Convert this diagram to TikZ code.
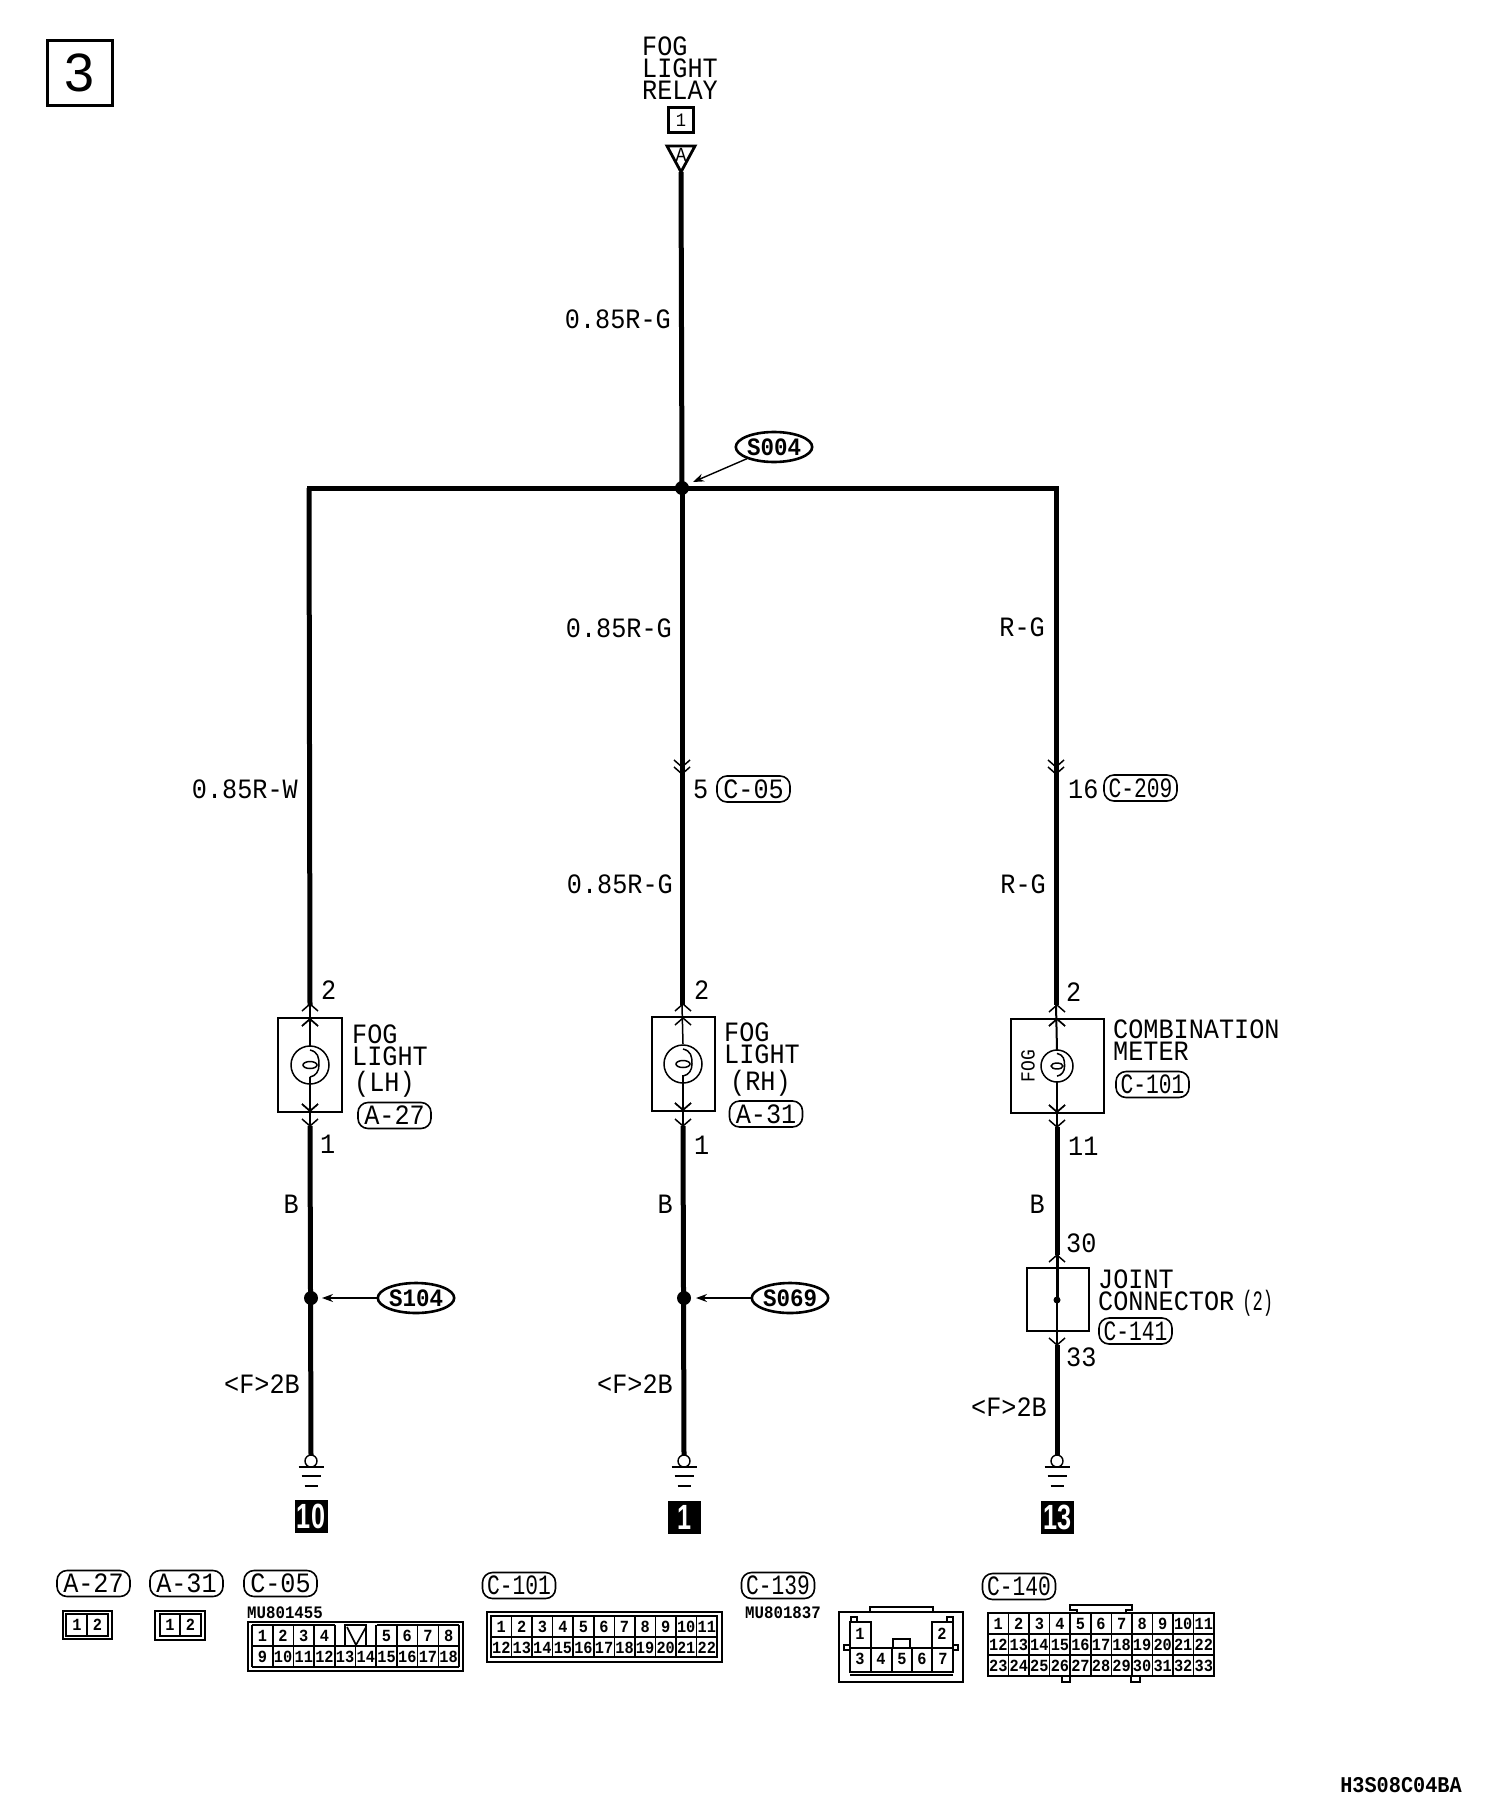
\documentclass[tikz,border=0pt]{standalone}
\usepackage{fontspec}
\usepackage{graphicx}
\setmainfont[FakeStretch=0.9]{Liberation Mono}
\newfontfamily\sansf{Liberation Sans}
\newfontfamily\tagnarrow[FakeStretch=0.76]{Liberation Mono}
\usetikzlibrary{shapes.geometric,arrows.meta}
\tikzset{
  wire/.style={line width=5pt},
  thinw/.style={line width=1.5pt},
  boxl/.style={draw,line width=1.9pt},
  lbl/.style={inner sep=0pt,font=\fontsize{28}{21.8}\selectfont,align=left},
  pinno/.style={inner sep=0pt,font=\fontsize{17}{17}\selectfont\bfseries},
  tag/.style={draw,line width=1.6pt,rounded corners=10pt,minimum width=73pt,minimum height=26pt,inner sep=0pt,font=\fontsize{28}{26}\selectfont},
  tagw/.style={tag,font=\fontsize{28}{26}\tagnarrow},
  splice/.style={draw,ellipse,line width=2.6pt,minimum width=76pt,minimum height=30pt,inner sep=0pt,font=\fontsize{25}{22}\selectfont\bfseries},
  dot/.style={circle,fill=black,inner sep=0pt,minimum size=14pt},
  callout/.style={line width=1.4pt,-{Stealth[length=11pt,width=8pt]}},
  grnd/.style={inner sep=0pt,fill=black,text=white,minimum width=33pt,minimum height=33pt,font=\fontsize{35}{35}\sansf\bfseries},
  cell/.style={line width=1.6pt},
  outer/.style={line width=2pt}
}
\newcommand{\chevup}[2]{\draw[thinw] (#1-8,#2+7) -- (#1,#2) -- (#1+8,#2+7);}
\newcommand{\chevdn}[2]{\draw[thinw] (#1-8,#2-7) -- (#1,#2) -- (#1+8,#2-7);}
\newcommand{\lamp}[3]{%
  \draw[line width=1.5pt] (#1,#2) circle (#3);
  \begin{scope}[shift={(#1,#2)},scale=#3/19]
    \draw[thinw] (0,-15) .. controls (8,-13) and (9,-8) .. (9,0) .. controls (9,6) and (6,11) .. (0,12);
    \draw[thinw] (0,0) ellipse (7 and 3.5);
  \end{scope}}
\newcommand{\ground}[3]{%
  \node[circle,draw,fill=white,line width=1.4pt,minimum size=12pt,inner sep=0pt] (gc#3) at (#1,1461) {};
  \draw[line width=1.5pt] (#1-12.5,1467) -- (#1+12.5,1467);
  \draw[line width=1.5pt] (#1-9.5,1476) -- (#1+9.5,1476);
  \draw[line width=2.2pt] (#1-6.5,1486) -- (#1+6.5,1486);
  \node[grnd] (gb#3) at (#1,#2) {\scalebox{.72}[1]{#3}};}
% prefix, x0, yc, pitch, col offset, first, last
\newcommand{\digits}[7]{%
  \foreach \n [count=\c from #5] in {#6,...,#7}
    \node[pinno,name=#1\n] at ({#2+(\c+.5)*#4},#3) {\n};}
\begin{document}
\begin{tikzpicture}[x=1pt,y=-1pt]
\useasboundingbox (0,0) rectangle (1504,1814);
\fill[white] (0,0) rectangle (1504,1814);

% page badge
\node[draw,line width=3.5pt,minimum size=65pt,inner sep=0pt,font=\fontsize{54}{54}\sansf] (page) at (80,73) {3};

% relay
\node[lbl,anchor=north west] (relay) at (642,37) {FOG\\LIGHT\\RELAY};
\node[draw,line width=2.6pt,minimum size=25pt,inner sep=0pt,font=\fontsize{19}{19}\selectfont] (relaypin) at (681,120) {1};
\draw[line width=2.8pt,line join=miter] (667,146) -- (695,146) -- (681,172) -- cycle;
\node[inner sep=0pt,font=\fontsize{20}{20}\selectfont] (relayA) at (681,155) {A};

% named points
\coordinate (top) at (681,172);
\coordinate (jl) at (309,488);
\coordinate (jr) at (1056,488);
\coordinate (jm) at (682,488);

\draw[wire] (top) -- (jm);
\draw[wire,line cap=rect] (jl) -- (jr);
\node[dot] (s004dot) at (jm) {};
\node[splice] (s004) at (774,447) {S004};
\coordinate (s004tip) at (693,482);
\draw[callout] (s004) -- (s004tip);

% left branch
\coordinate (lt) at (310,1005);
\coordinate (lb) at (310,1126);
\coordinate (lg) at (311,1455);
\draw[wire] (jl) -- (lt);
\draw[thinw] (lt) -- (310,1046);
\draw[thinw] (310,1077) -- (lb);
\draw[wire] (lb) -- (lg);
\chevup{310}{1004}\chevup{310}{1019}\chevdn{310}{1111}\chevdn{310}{1126}
\node[boxl,minimum width=64pt,minimum height=94pt,inner sep=0pt] (lhbox) at (310,1065) {};
\lamp{310}{1065}{19}
\chevup{310}{1019}\chevdn{310}{1111}
\node[lbl,anchor=east] (w1) at (298,789) {0.85R-W};
\node[lbl,anchor=west] (p1a) at (321,990) {2};
\node[lbl,anchor=west] (p1b) at (320,1144) {1};
\node[lbl,anchor=north west] (lhname) at (352,1025) {FOG\\LIGHT};
\node[lbl,anchor=west] (lhside) at (354,1084) {(LH)};
\node[tag] (a27) at (394.5,1115.5) {A-27};
\node[lbl,anchor=east] (w2) at (299,1204) {B};
\node[lbl,anchor=east] (w3) at (300,1384) {<F>2B};
\node[dot] (s104dot) at (311,1298) {};
\node[splice] (s104) at (416,1298) {S104};
\coordinate (s104tip) at (322,1298);
\draw[callout] (s104) -- (s104tip);
\ground{311}{1516.5}{10}

% middle branch
\coordinate (mt) at (682,1005);
\coordinate (mb) at (683,1126);
\coordinate (mg) at (684,1455);
\draw[wire] (jm) -- (mt);
\draw[thinw] (mt) -- (683,1044);
\draw[thinw] (683,1075) -- (mb);
\draw[wire] (mb) -- (mg);
\chevdn{682}{774}\chevdn{682}{767}
\chevup{683}{1004}\chevdn{683}{1110}\chevdn{683}{1126}
\node[boxl,minimum width=63pt,minimum height=94pt,inner sep=0pt] (rhbox) at (683.5,1064) {};
\lamp{683}{1064}{19}
\chevup{683}{1018}\chevdn{683}{1110}
\node[lbl,anchor=east] (m1) at (671,319) {0.85R-G};
\node[lbl,anchor=east] (m2) at (672,628) {0.85R-G};
\node[lbl,anchor=west] (m3) at (693,789) {5};
\node[tag] (c05a) at (753.5,789) {C-05};
\node[lbl,anchor=east] (m4) at (673,884) {0.85R-G};
\node[lbl,anchor=west] (p2a) at (694,990) {2};
\node[lbl,anchor=west] (p2b) at (694,1145) {1};
\node[lbl,anchor=north west] (rhname) at (724,1023) {FOG\\LIGHT};
\node[lbl,anchor=west] (rhside) at (730,1083) {(RH)};
\node[tag] (a31) at (766,1114) {A-31};
\node[lbl,anchor=east] (m5) at (673,1204) {B};
\node[lbl,anchor=east] (m6) at (673,1384) {<F>2B};
\node[dot] (s069dot) at (684,1298) {};
\node[splice] (s069) at (790,1298) {S069};
\coordinate (s069tip) at (696,1298);
\draw[callout] (s069) -- (s069tip);
\ground{684}{1517}{1}

% right branch
\coordinate (rt) at (1056,1005);
\coordinate (rb) at (1057,1127);
\coordinate (rj) at (1057,1255);
\coordinate (rd) at (1057,1345);
\coordinate (rg) at (1057,1455);
\draw[wire] (jr) -- (rt);
\draw[line width=2pt] (rt) -- (1057,1050);
\draw[line width=2pt] (1057,1082) -- (rb);
\draw[wire] (rb) -- (rj);
\draw[line width=3pt] (rj) -- (1057,1300);
\draw[line width=1.6pt] (1057,1300) -- (rd);
\draw[wire] (rd) -- (rg);
\chevdn{1056}{774}\chevdn{1056}{767}
\chevup{1057}{1005}\chevup{1057}{1019}\chevdn{1057}{1112}\chevdn{1057}{1127}
\node[boxl,minimum width=93pt,minimum height=94pt,inner sep=0pt,line width=2.2pt] (combox) at (1057.5,1066) {};
\lamp{1057}{1066}{16}
\chevup{1057}{1019}\chevdn{1057}{1112}
\node[inner sep=0pt,rotate=90,font=\fontsize{20}{20}\selectfont] (fogv) at (1028,1066) {FOG};
\node[lbl,anchor=east] (r1) at (1045,627) {R-G};
\node[lbl,anchor=west] (r2) at (1068,789) {16};
\node[tagw] (c209) at (1140.5,788) {C-209};
\node[lbl,anchor=east] (r3) at (1046,884) {R-G};
\node[lbl,anchor=west] (p3a) at (1066,992) {2};
\node[lbl,anchor=west] (p3b) at (1068,1146) {11};
\node[lbl,anchor=north west] (comname) at (1113,1020) {COMBINATION\\METER};
\node[tagw] (c101a) at (1152.5,1084.5) {C-101};
\node[lbl,anchor=east] (r4) at (1045,1204) {B};
\node[lbl,anchor=west] (p3c) at (1066,1243) {30};
\chevup{1057}{1255}
\node[draw,line width=1.3pt,minimum width=62pt,minimum height=63pt,inner sep=0pt] (jointbox) at (1058,1299.5) {};
\node[circle,fill=black,inner sep=0pt,minimum size=7pt] (jointdot) at (1057,1300) {};
\node[lbl,anchor=north west] (jointname) at (1098,1270) {JOINT\\CONNECTOR\kern8pt\scalebox{.68}[1]{(2)}};
\node[tagw] (c141) at (1135.5,1331) {C-141};
\chevdn{1057}{1345}
\node[lbl,anchor=west] (p3d) at (1066,1357) {33};
\node[lbl,anchor=east] (r5) at (1047,1407) {<F>2B};
\ground{1057}{1517}{13}

% connector views: tags
\node[tag] (ta27) at (93.5,1583.5) {A-27};
\node[tag] (ta31) at (186.5,1583.5) {A-31};
\node[tag] (tc05) at (280.5,1583.5) {C-05};
\node[tagw] (tc101) at (519,1585.5) {C-101};
\node[tagw] (tc139) at (778,1585.5) {C-139};
\node[tagw] (tc140) at (1019,1586.5) {C-140};

% A-27 view
\draw[outer] (63,1611) rectangle (112,1639);
\draw[cell] (66,1614) rectangle (108,1636);
\draw[cell] (87,1614) -- (87,1636);
\node[pinno] (a27p1) at (77,1625) {1};
\node[pinno] (a27p2) at (97.5,1625) {2};
% A-31 view
\draw[outer] (155,1611) rectangle (205,1640);
\draw[cell] (160,1614) rectangle (201,1636);
\draw[cell] (180,1614) -- (180,1636);
\node[pinno] (a31p1) at (170,1625) {1};
\node[pinno] (a31p2) at (190.5,1625) {2};

% C-05 view
\node[inner sep=0pt,anchor=base west,font=\fontsize{17.5}{18}\selectfont\bfseries] (mu1) at (247,1618) {MU801455};
\draw[outer] (248,1622) rectangle (463,1671);
\draw[cell] (252,1646) -- (459,1646);
\draw[cell] (252,1625) -- (335,1625);
\draw[cell] (377,1625) -- (459,1625);
\draw[cell] (252,1667) -- (459,1667);
\foreach \c in {0,1,2,3,4,6,7,8,9,10} \draw[cell] ({252+\c*20.7},1625) -- ({252+\c*20.7},1667);
\draw[cell] ({252+5*20.7},1646) -- ({252+5*20.7},1667);
\draw[cell] (345,1646) -- (345,1625) -- (366,1625) -- (366,1646);
\draw[cell] (347,1627) -- (356,1645) -- (366,1627);
\digits{c05}{252}{1636}{20.7}{0}{1}{4}
\digits{c05}{252}{1636}{20.7}{6}{5}{8}
\digits{c05}{252}{1657}{20.7}{0}{9}{18}

% C-101 view
\draw[outer] (487,1612) rectangle (722,1662);
\draw[cell] (491,1616) rectangle (717,1657);
\draw[cell] (491,1637) -- (717,1637);
\foreach \c in {1,...,10} \draw[cell] ({491+\c*20.55},1616) -- ({491+\c*20.55},1657);
\digits{c101}{491}{1627}{20.55}{0}{1}{11}
\digits{c101}{491}{1647.5}{20.55}{0}{12}{22}

% C-139 view
\node[inner sep=0pt,anchor=base west,font=\fontsize{17.5}{18}\selectfont\bfseries] (mu2) at (745,1618) {MU801837};
\draw[outer] (839,1612) rectangle (963,1682);
\draw[cell] (870,1612) -- (870,1607) -- (933,1607) -- (933,1612);
\draw[cell] (850,1648) rectangle (953,1672);
\foreach \xc in {871,892,912,932} \draw[cell] (\xc,1648) -- (\xc,1672);
\draw[cell] (850,1648) -- (850,1622) -- (871,1622) -- (871,1648);
\draw[cell] (932,1648) -- (932,1622) -- (953,1622) -- (953,1648);
\draw[cell] (851,1622) -- (851,1617) -- (857,1617) -- (857,1622);
\draw[cell] (947,1622) -- (947,1617) -- (953,1617) -- (953,1622);
\draw[cell] (893,1648) -- (893,1639) -- (910,1639) -- (910,1648);
\draw[cell] (850,1645) -- (844,1645) -- (844,1650) -- (850,1650);
\draw[cell] (953,1645) -- (958,1645) -- (958,1650) -- (953,1650);
\draw[line width=2pt] (850,1675) -- (953,1675);
\node[pinno] (c139p1) at (860,1633.5) {1};
\node[pinno] (c139p2) at (942,1633.5) {2};
\node[pinno] (c139p3) at (860,1659) {3};
\node[pinno] (c139p4) at (881,1659) {4};
\node[pinno] (c139p5) at (902,1659) {5};
\node[pinno] (c139p6) at (922,1659) {6};
\node[pinno] (c139p7) at (943,1659) {7};

% C-140 view
\draw[outer] (988,1613) rectangle (1214,1676);
\draw[cell] (988,1634) -- (1214,1634);
\draw[cell] (988,1655) -- (1214,1655);
\foreach \c in {1,...,10} \draw[cell] ({988+\c*20.55},1613) -- ({988+\c*20.55},1676);
\draw[cell] (1077,1613) -- (1077,1610) -- (1070,1610) -- (1070,1605) -- (1132,1605) -- (1132,1610) -- (1126,1610) -- (1126,1613);
\draw[cell] (1062,1676) -- (1062,1682) -- (1070,1682) -- (1070,1676);
\draw[cell] (1131,1676) -- (1131,1682) -- (1140,1682) -- (1140,1676);
\digits{c140}{988}{1624}{20.55}{0}{1}{11}
\digits{c140}{988}{1645}{20.55}{0}{12}{22}
\digits{c140}{988}{1666}{20.55}{0}{23}{33}

% drawing number
\node[inner sep=0pt,anchor=center,font=\fontsize{22.5}{23}\selectfont\bfseries] (dwg) at (1401,1785) {H3S08C04BA};
\end{tikzpicture}
\end{document}
